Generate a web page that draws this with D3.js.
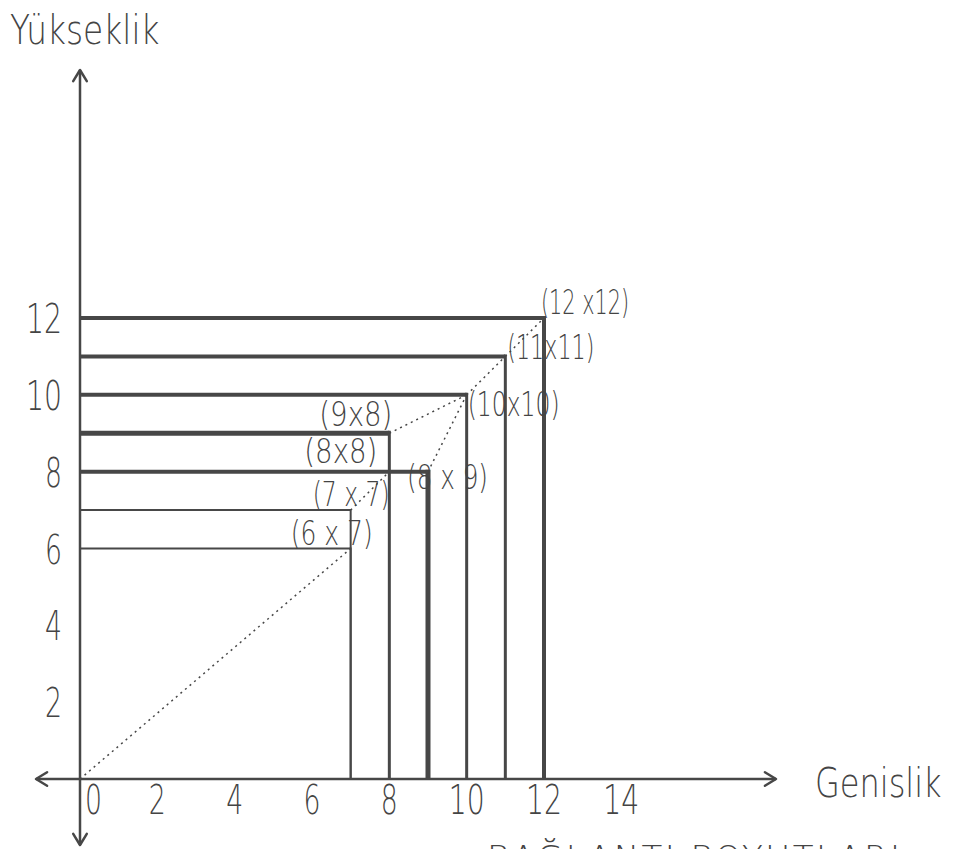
<!DOCTYPE html>
<html>
<head>
<meta charset="utf-8">
<style>
  body { margin: 0; background: #fff; }
  text { font-family: "DejaVu Sans", "Roboto", sans-serif; font-weight: 300; fill: #444; }
</style>
</head>
<body>
<script src="https://cdn.jsdelivr.net/npm/d3@7"></script>
<script>
// widths / heights of the nested rectangles (drawn from the origin)
var rectWidth  = [7, 7, 8, 9, 10, 11, 12];
var rectHeight = [6, 7, 9, 8, 10, 11, 12];
var xTicks = [0, 2, 4, 6, 8, 10, 12, 14];
var yTicks = [2, 4, 6, 8, 10, 12];

// corner labels and the point each one sits at
var labelText = ['(6 x 7)', '(7 x 7)', '(8x8)', '(9x8)', '(8 x 9)', '(10x10)', '(11x11)', '(12 x12)'];
var labelX    = [7, 7, 8, 8, 9, 10, 11, 12];
var labelY    = [6, 7, 8, 9, 8, 10, 11, 12];

// dotted diagonals joining the corners
var dotFrom = [[0, 0], [7, 7], [8, 9], [9, 8], [10, 10], [11, 11]];
var dotTo   = [[7, 6], [8, 8], [10, 10], [10, 10], [11, 11], [12, 12]];

var svgWidth = 956, svgHeight = 849;
var svg = d3.select('body').append('svg')
    .attr('width', svgWidth).attr('height', svgHeight);

var x = d3.scaleLinear().domain([0, 12]).range([80, 544]);
var y = d3.scaleLinear().domain([0, 12]).range([779, 318]);
var ink = '#474747';

// line widths per rectangle (top edge, right edge)
var topW   = [2, 2, 5, 4, 4, 4, 4];
var rightW = [2, 2, 3, 5, 3, 3, 4];

var rects = svg.append('g');
rectWidth.forEach(function(w, i) {
    var h = rectHeight[i];
    rects.append('line')
        .attr('x1', x(0)).attr('y1', y(h))
        .attr('x2', x(w)).attr('y2', y(h))
        .attr('stroke', ink).attr('stroke-width', topW[i]);
    rects.append('line')
        .attr('x1', x(w)).attr('y1', y(h) - topW[i] / 2)
        .attr('x2', x(w)).attr('y2', y(0))
        .attr('stroke', ink).attr('stroke-width', rightW[i]);
});

// dotted diagonals
dotFrom.forEach(function(p, i) {
    svg.append('line')
        .attr('x1', x(p[0])).attr('y1', y(p[1]))
        .attr('x2', x(dotTo[i][0])).attr('y2', y(dotTo[i][1]))
        .attr('stroke', ink).attr('stroke-width', 1.5)
        .attr('stroke-dasharray', '2,4');
});

// axes with open arrow heads
function arrow(x1, y1, x2, y2) {
    var a = Math.atan2(y2 - y1, x2 - x1), L = 13, s = 0.55;
    svg.append('line').attr('x1', x1).attr('y1', y1).attr('x2', x2).attr('y2', y2)
        .attr('stroke', ink).attr('stroke-width', 2.5);
    svg.append('path')
        .attr('d', 'M' + (x2 - L * Math.cos(a - s)) + ',' + (y2 - L * Math.sin(a - s)) +
                   'L' + x2 + ',' + y2 +
                   'L' + (x2 - L * Math.cos(a + s)) + ',' + (y2 - L * Math.sin(a + s)))
        .attr('fill', 'none').attr('stroke', ink).attr('stroke-width', 2.5)
        .attr('stroke-linecap', 'round').attr('stroke-linejoin', 'round');
}
arrow(x(0), y(0), 776, y(0));
arrow(x(0), y(0), 36, y(0));
arrow(x(0), y(0), x(0), 70);
arrow(x(0), y(0), x(0), 845);

// tick labels, tall and narrow like the hand lettering
function tickLen(d) { return String(d).length > 1 ? 36 : 17; }
svg.append('g').selectAll('text').data(xTicks).enter().append('text')
    .attr('x', function(d) { return d === 0 ? x(d) + 5 : x(d) - tickLen(d) / 2; })
    .attr('y', 814)
    .attr('font-size', 40)
    .attr('textLength', tickLen).attr('lengthAdjust', 'spacingAndGlyphs')
    .text(function(d) { return d; });

svg.append('g').selectAll('text').data(yTicks).enter().append('text')
    .attr('x', function(d) { return 62 - tickLen(d); })
    .attr('y', function(d) { return y(d) + 15; })
    .attr('font-size', 40)
    .attr('textLength', tickLen).attr('lengthAdjust', 'spacingAndGlyphs')
    .text(function(d) { return d; });

// corner labels
var labelDx = [-60, -38, -85, -70, -21, 1, 2, -3];
var labelDy = [-4, -4, -9, -7, 17, 21, 3, -4];
var labelLen = [82, 77, 73, 73, 81, 92, 87, 88];
svg.append('g').selectAll('text').data(labelText).enter().append('text')
    .attr('x', function(d, i) { return x(labelX[i]) + labelDx[i]; })
    .attr('y', function(d, i) { return y(labelY[i]) + labelDy[i]; })
    .attr('font-size', 34)
    .attr('textLength', function(d, i) { return labelLen[i]; })
    .attr('lengthAdjust', 'spacingAndGlyphs')
    .text(function(d) { return d; });

// axis titles (narrowed by a horizontal scale)
svg.append('text').attr('transform', 'translate(10,44) scale(0.82,1)')
    .attr('font-size', 40)
    .text('Yükseklik');
svg.append('text').attr('transform', 'translate(815,797) scale(0.8,1)')
    .attr('font-size', 40)
    .text('Genislik');

// caption, mostly cut off by the page edge as in the scan
svg.append('text').attr('x', 487).attr('y', 870).attr('font-size', 34)
    .attr('textLength', 413).attr('lengthAdjust', 'spacing')
    .text('BAĞLANTI BOYUTLARI');
</script>
</body>
</html>
